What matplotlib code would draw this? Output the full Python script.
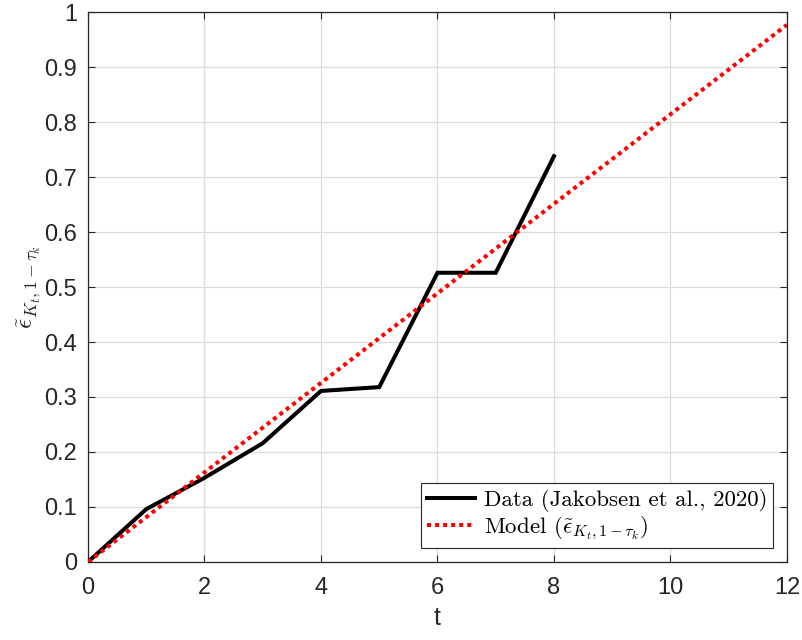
import matplotlib
matplotlib.use("Agg")
import matplotlib.pyplot as plt

# data
t_data = [0, 1, 2, 3, 4, 5, 6, 7, 8]
eps_data = [0.0, 0.096, 0.153, 0.216, 0.311, 0.318, 0.526, 0.526, 0.738]

t_model = [0, 12]
eps_model = [0.0, 0.977]

x_ticks = [0, 2, 4, 6, 8, 10, 12]
y_ticks = [0, 0.1, 0.2, 0.3, 0.4, 0.5, 0.6, 0.7, 0.8, 0.9, 1]
y_ticklabels = ["0", "0.1", "0.2", "0.3", "0.4", "0.5", "0.6", "0.7", "0.8", "0.9", "1"]

plt.rcParams["mathtext.fontset"] = "cm"
plt.rcParams["font.family"] = ["Liberation Sans", "DejaVu Sans"]

AX_COLOR = "#262626"

fig = plt.figure(figsize=(8.03, 6.40), dpi=100)
ax = fig.add_axes([0.1096, 0.122, 0.8704, 0.859])

ax.plot(t_data, eps_data, "-", color="black", lw=2.9, solid_joinstyle="miter",
        label="Data (Jakobsen et al., 2020)", zorder=3)
ax.plot(t_model, eps_model, color="red", lw=2.9, ls=(0, (1, 1)),
        label=r"Model ($\tilde{\epsilon}_{K_t,1-\tau_k}$)", zorder=3)

ax.set_xlim(0, 12)
ax.set_ylim(0, 1)
ax.set_xticks(x_ticks)
ax.set_yticks(y_ticks)
ax.set_yticklabels(y_ticklabels)
ax.tick_params(direction="in", length=5, width=0.8, colors=AX_COLOR, labelsize=17,
               top=True, right=True)
ax.tick_params(axis="x", pad=11)
ax.tick_params(axis="y", pad=8)
for s in ax.spines.values():
    s.set_color(AX_COLOR)
    s.set_linewidth(0.9)
ax.grid(True, color="#dcdcdc", lw=0.9)
ax.set_axisbelow(True)

ax.set_xlabel("t", fontsize=18, color=AX_COLOR, labelpad=5)
ax.set_ylabel(r"$\tilde{\epsilon}_{K_t,1-\tau_k}$", fontsize=18, color=AX_COLOR, labelpad=1)

leg = ax.legend(loc="lower right", frameon=True, fancybox=False,
                prop={"family": "cmr10", "size": 16.5},
                edgecolor=AX_COLOR, framealpha=1, handlelength=2.1, handletextpad=0.4,
                borderpad=0.25, labelspacing=0.12, borderaxespad=0.6)
leg.get_frame().set_linewidth(0.8)

fig.savefig("out.png", dpi=100)
